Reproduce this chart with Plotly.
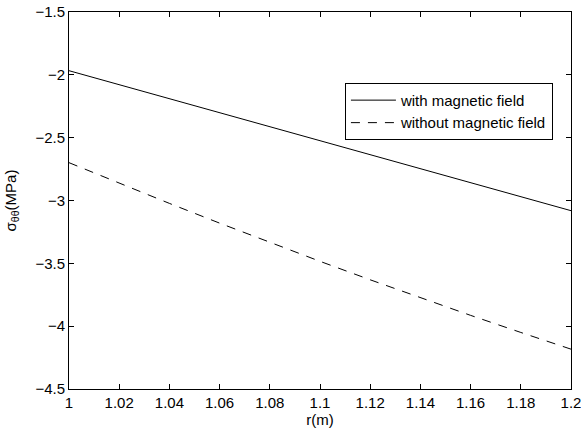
import plotly.graph_objects as go

r = [1.00, 1.02, 1.04, 1.06, 1.08, 1.10, 1.12, 1.14, 1.16, 1.18, 1.20]
with_field = [-1.967, -2.079, -2.190, -2.301, -2.412, -2.524, -2.635, -2.747, -2.858, -2.970, -3.081]
without_field = [-2.699, -2.863, -3.023, -3.180, -3.334, -3.484, -3.631, -3.774, -3.914, -4.050, -4.183]

x_ticks = [1.00, 1.02, 1.04, 1.06, 1.08, 1.10, 1.12, 1.14, 1.16, 1.18, 1.20]
x_labels = ["1", "1.02", "1.04", "1.06", "1.08", "1.1", "1.12", "1.14", "1.16", "1.18", "1.2"]
y_ticks = [-4.5, -4.0, -3.5, -3.0, -2.5, -2.0, -1.5]
y_labels = ["\u22124.5", "\u22124", "\u22123.5", "\u22123", "\u22122.5", "\u22122", "\u22121.5"]

font_family = "Liberation Sans, Arial, sans-serif"
fs = 15

fig = go.Figure()
fig.add_trace(go.Scatter(x=r, y=with_field, mode="lines", name="with magnetic field",
                         legendgroup="a", line=dict(color="black", width=1)))
fig.add_trace(go.Scatter(x=r, y=without_field, mode="lines", name="without magnetic field",
                         legendgroup="b", line=dict(color="black", width=1, dash="9px,8px")))

axis_common = dict(showline=True, linecolor="black", linewidth=1, mirror="ticks",
                   ticks="inside", ticklen=5, tickcolor="black", showgrid=False,
                   zeroline=False, automargin=False, ticklabeloverflow="allow",
                   tickfont=dict(family=font_family, size=fs, color="black"))

fig.update_layout(
    width=581, height=430,
    margin=dict(l=69, r=10, t=12, b=41),
    paper_bgcolor="white", plot_bgcolor="white",
    font=dict(family=font_family, size=fs, color="black"),
    xaxis=dict(range=[1.0, 1.2], tickvals=x_ticks, ticktext=x_labels,
               title=dict(text="r(m)", standoff=2, font=dict(size=fs)), **axis_common),
    yaxis=dict(range=[-4.5, -1.5], tickvals=y_ticks, ticktext=y_labels,
               title=dict(text="\u03c3<sub>\u03b8\u03b8</sub>(MPa)", standoff=15, font=dict(size=fs)),
               **axis_common),
    legend=dict(x=0.964, y=0.812, xanchor="right", yanchor="top",
                bgcolor="white", bordercolor="black", borderwidth=1,
                font=dict(family=font_family, size=fs, color="black"),
                tracegroupgap=0, itemwidth=45),
    showlegend=True,
)

fig.write_html("out.html")
